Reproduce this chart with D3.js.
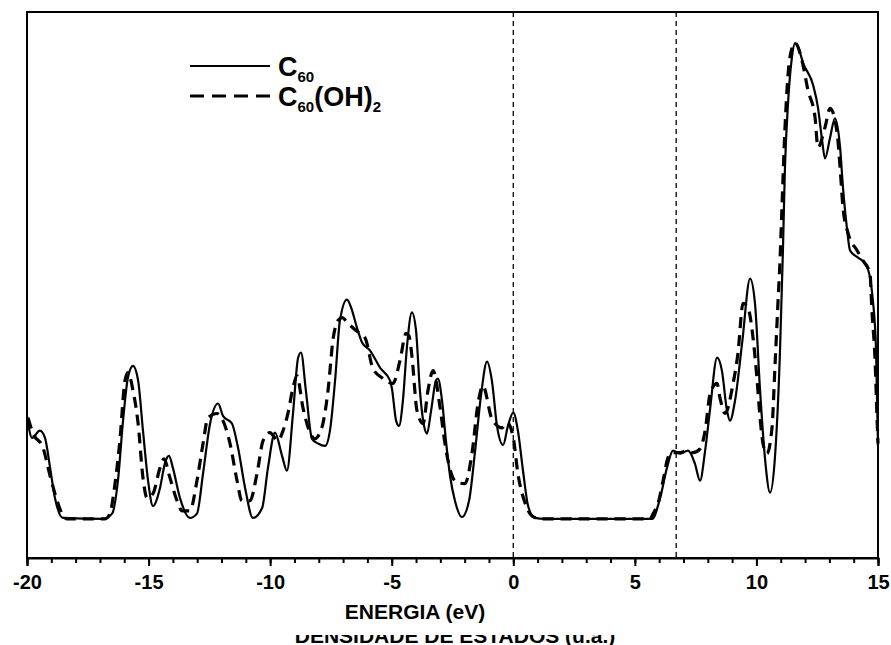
<!DOCTYPE html>
<html>
<head>
<meta charset="utf-8">
<script src="https://cdn.jsdelivr.net/npm/d3@7"></script>
<style>
body { margin: 0; background: #fff; }
text { font-family: "Liberation Sans", Arial, sans-serif; font-weight: bold; }
</style>
</head>
<body>
<svg id="dos" width="891" height="645"></svg>
<script>
// C60 (solid line)
var c60Energy = [
  -20.00, -19.79, -19.47, -19.26, -19.05, -18.85, -18.52, -16.87, -16.50, -16.26,
  -16.05, -15.85, -15.64, -15.43, -15.23, -15.02, -14.82, -14.53, -14.32, -14.16,
  -14.00, -13.71, -13.30, -13.01, -12.76, -12.47, -12.14, -11.94, -11.57, -11.32,
  -11.03, -10.71, -10.33, -10.09, -9.80, -9.51, -9.31, -9.06, -8.85, -8.73,
  -8.53, -8.28, -8.03, -7.74, -7.54, -7.33, -7.13, -6.84, -6.63, -6.43,
  -6.22, -5.89, -5.48, -5.07, -4.99, -4.82, -4.70, -4.54, -4.37, -4.17,
  -4.00, -3.84, -3.67, -3.55, -3.38, -3.18, -3.10, -2.93, -2.77, -2.60,
  -2.40, -2.11, -1.82, -1.57, -1.33, -1.08, -0.88, -0.67, -0.42, -0.22,
  0.00, 0.19, 0.40, 0.61, 0.89, 1.30, 5.71, 6.04, 6.32, 6.57,
  6.86, 7.19, 7.47, 7.68, 7.89, 8.10, 8.38, 8.58, 8.79, 8.91,
  9.12, 9.41, 9.74, 9.94, 10.15, 10.35, 10.56, 10.76, 10.97, 11.09,
  11.17, 11.30, 11.46, 11.59, 11.71, 11.92, 12.33, 12.53, 12.70, 12.82,
  13.03, 13.23, 13.44, 13.56, 13.72, 13.85, 14.18, 14.47, 14.67, 14.79,
  14.92, 15.00
];
var c60Dos = [
  2.16, 1.70, 1.85, 1.70, 1.07, 0.44, 0.02, 0, 0.11, 0.80,
  2.06, 2.96, 3.21, 2.90, 1.85, 0.80, 0.27, 0.65, 1.18, 1.32,
  1.07, 0.44, 0.02, 0.11, 0.95, 2.00, 2.42, 2.16, 2.00, 1.49,
  0.65, 0.02, 0.23, 1.07, 1.81, 1.32, 1.01, 2.21, 3.38, 3.49,
  2.69, 1.68, 1.58, 1.53, 1.85, 2.90, 4.16, 4.60, 4.37, 4.01,
  3.70, 3.53, 3.17, 2.90, 2.73, 2.06, 1.95, 2.48, 3.63, 4.33,
  3.95, 2.69, 1.95, 1.79, 2.27, 2.90, 2.94, 2.48, 1.64, 0.90,
  0.38, 0.04, 0.38, 1.43, 2.58, 3.30, 2.90, 1.95, 1.55, 1.95,
  2.23, 1.85, 1.01, 0.27, 0.02, 0, 0, 0.44, 1.07, 1.43,
  1.37, 1.43, 1.16, 0.80, 1.43, 2.33, 3.38, 3.11, 2.27, 2.06,
  2.48, 3.68, 5.04, 4.52, 2.69, 1.28, 0.55, 1.28, 3.53, 5.63,
  7.31, 8.72, 9.68, 9.98, 9.90, 9.56, 9.10, 8.63, 7.94, 7.56,
  8.00, 8.40, 7.79, 6.95, 6.11, 5.63, 5.48, 5.36, 5.06, 4.58,
  3.53, 1.53
];

// C60(OH)2 (dashed line)
var ohEnergy = [
  -19.96, -19.75, -19.34, -19.05, -18.85, -18.56, -18.35, -16.79, -16.59, -16.38,
  -16.18, -15.97, -15.85, -15.64, -15.43, -15.23, -15.06, -14.82, -14.53, -14.37,
  -14.12, -13.83, -13.62, -13.30, -13.01, -12.76, -12.56, -12.19, -11.94, -11.65,
  -11.36, -11.16, -10.83, -10.54, -10.29, -10.01, -9.68, -9.47, -9.27, -9.06,
  -8.90, -8.65, -8.36, -8.16, -7.95, -7.83, -7.62, -7.41, -7.21, -7.04,
  -6.80, -6.47, -6.10, -5.77, -5.40, -4.95, -4.66, -4.41, -4.29, -4.17,
  -3.96, -3.71, -3.51, -3.30, -3.01, -2.81, -2.48, -2.27, -1.99, -1.70,
  -1.45, -1.25, -0.88, -0.46, -0.26, 0.00, 0.19, 0.48, 0.77, 1.10,
  5.62, 5.75, 5.95, 6.16, 6.36, 6.53, 6.86, 7.14, 7.39, 7.68,
  7.89, 8.10, 8.38, 8.50, 8.71, 9.04, 9.24, 9.45, 9.65, 9.86,
  10.02, 10.15, 10.27, 10.43, 10.64, 10.76, 10.89, 10.97, 11.05, 11.17,
  11.30, 11.46, 11.59, 11.87, 12.12, 12.41, 12.53, 12.82, 13.03, 13.32,
  13.44, 13.56, 13.77, 14.14, 14.38, 14.67, 14.75, 14.88, 14.96, 15.00
];
var ohDos = [
  2.12, 1.79, 1.49, 0.90, 0.53, 0.11, 0, 0, 0.11, 0.74,
  1.64, 2.90, 3.07, 2.69, 2.00, 0.86, 0.44, 0.53, 1.07, 1.26,
  0.86, 0.38, 0.17, 0.17, 0.80, 1.58, 2.12, 2.21, 2.06, 1.58,
  0.80, 0.38, 0.38, 0.95, 1.64, 1.81, 1.64, 1.85, 2.21, 2.75,
  3.00, 2.33, 1.81, 1.68, 1.81, 2.00, 2.69, 3.78, 4.16, 4.22,
  4.10, 3.95, 3.80, 3.15, 2.96, 2.84, 3.32, 3.89, 3.84, 3.42,
  2.27, 2.00, 2.69, 3.11, 2.33, 1.58, 0.86, 0.76, 0.74, 1.37,
  2.42, 2.79, 2.10, 1.91, 2.02, 1.70, 0.95, 0.34, 0.06, 0,
  0, 0.11, 0.32, 0.80, 1.28, 1.39, 1.39, 1.43, 1.39, 1.47,
  1.85, 2.63, 2.84, 2.54, 2.21, 2.84, 3.47, 4.52, 4.43, 3.80,
  2.96, 2.12, 1.58, 1.37, 1.91, 3.17, 4.58, 5.42, 6.53, 8.15,
  9.31, 9.87, 9.98, 9.62, 8.99, 8.42, 7.79, 8.21, 8.61, 8.09,
  7.37, 6.53, 5.99, 5.63, 5.42, 5.15, 4.37, 3.32, 2.12, 1.58
];

var xTicks = [-20, -15, -10, -5, 0, 5, 10, 15];
var minorTicks = d3.range(-20, 16, 1);
var markerLines = [0, 6.7];

var svg = d3.select("#dos"),
  margin = {top: 12, right: 13, bottom: 87, left: 27},
  width = +svg.attr("width") - margin.left - margin.right,
  height = +svg.attr("height") - margin.top - margin.bottom,
  g = svg.append("g").attr("transform", "translate(" + margin.left + "," + margin.top + ")");

var x = d3.scaleLinear().domain([-20, 15]).range([0, width]);
var y = d3.scaleLinear().domain([-0.82, 10.63]).range([height, 0]);

function toPoints(es, ds) {
  return es.map(function(e, i) { return [e, ds[i]]; });
}

var line = d3.line()
  .x(function(d) { return x(d[0]); })
  .y(function(d) { return y(d[1]); })
  .curve(d3.curveMonotoneX);

// vertical dashed markers (HOMO / LUMO)
g.selectAll(".marker")
  .data(markerLines)
  .enter().append("line")
  .attr("class", "marker")
  .attr("x1", function(d) { return x(d); })
  .attr("x2", function(d) { return x(d); })
  .attr("y1", 0)
  .attr("y2", height)
  .attr("stroke", "#000")
  .attr("stroke-width", 1.3)
  .attr("stroke-dasharray", "5,4");

g.append("path")
  .datum(toPoints(ohEnergy, ohDos))
  .attr("fill", "none")
  .attr("stroke", "#000")
  .attr("stroke-width", 3.2)
  .attr("stroke-dasharray", "11,7")
  .attr("d", line);

g.append("path")
  .datum(toPoints(c60Energy, c60Dos))
  .attr("fill", "none")
  .attr("stroke", "#000")
  .attr("stroke-width", 2.2)
  .attr("d", line);

// frame
g.append("rect")
  .attr("width", width)
  .attr("height", height)
  .attr("fill", "none")
  .attr("stroke", "#000")
  .attr("stroke-width", 2);

// minor ticks
g.append("g")
  .attr("transform", "translate(0," + height + ")")
  .call(d3.axisBottom(x).tickValues(minorTicks).tickSize(5).tickFormat(""))
  .call(function(a) { a.select(".domain").remove(); })
  .selectAll("line").attr("stroke-width", 2);

// major ticks + labels
var xAxis = g.append("g")
  .attr("transform", "translate(0," + height + ")")
  .call(d3.axisBottom(x).tickValues(xTicks).tickSize(8).tickPadding(9).tickFormat(d3.format("d")));
xAxis.select(".domain").attr("stroke-width", 2);
xAxis.selectAll("line").attr("stroke-width", 2);
xAxis.selectAll("text")
  .attr("font-size", 20)
  .attr("font-family", "Liberation Sans, Arial, sans-serif")
  .attr("font-weight", "bold")
  .text(function(d) { return d < 0 ? "-" + Math.abs(d) : d; });

// axis titles; the second one is partly hidden in the original
svg.append("clipPath").attr("id", "lowHalf")
  .append("rect").attr("x", 0).attr("y", 635).attr("width", 891).attr("height", 10);

svg.append("text")
  .attr("clip-path", "url(#lowHalf)")
  .attr("x", 455)
  .attr("y", 643)
  .attr("text-anchor", "middle")
  .attr("font-size", 21)
  .text("DENSIDADE DE ESTADOS (u.a.)");

svg.append("text")
  .attr("x", 415)
  .attr("y", 619)
  .attr("text-anchor", "middle")
  .attr("font-size", 21)
  .text("ENERGIA (eV)");

// legend
var legendRows = [
  {y: 66, dash: null, width: 2.2, n: 1},
  {y: 96, dash: "14,8", width: 3.2, n: 2}
];

var legend = svg.append("g")
  .selectAll("g")
  .data(legendRows)
  .enter().append("g")
  .attr("transform", function(d) { return "translate(0," + d.y + ")"; });

legend.append("line")
  .attr("x1", 190)
  .attr("x2", 270)
  .attr("stroke", "#000")
  .attr("stroke-width", function(d) { return d.width; })
  .attr("stroke-dasharray", function(d) { return d.dash; });

var lt = legend.append("text")
  .attr("x", 278)
  .attr("y", 10)
  .attr("font-size", 27);

lt.append("tspan").text("C");
lt.append("tspan").attr("font-size", 15).attr("dy", 6).text("60");
lt.filter(function(d) { return d.n == 2; }).each(function() {
  var t = d3.select(this);
  t.append("tspan").attr("dy", -6).text("(OH)");
  t.append("tspan").attr("font-size", 15).attr("dy", 6).text("2");
});
</script>
</body>
</html>
